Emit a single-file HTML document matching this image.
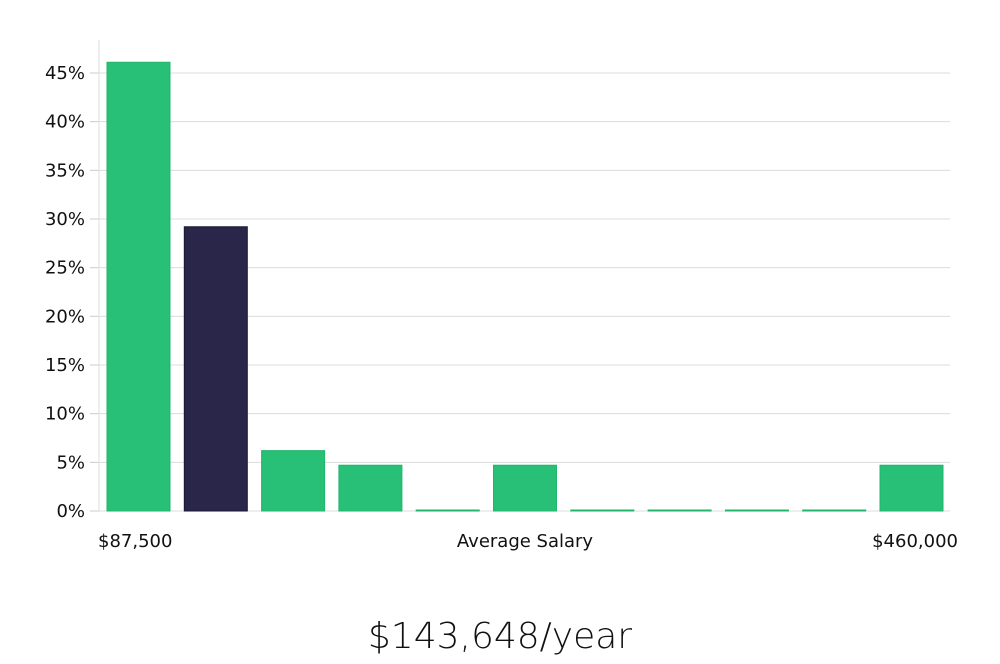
<!DOCTYPE html>
<html><head><meta charset="utf-8"><style>
body{margin:0;background:#fff;width:1000px;height:660px;overflow:hidden;font-family:"DejaVu Sans","Liberation Sans",sans-serif;}
svg text{font-family:"DejaVu Sans","Liberation Sans",sans-serif;}
</style></head><body>
<svg id="chart" width="1000" height="660" xmlns="http://www.w3.org/2000/svg">
<g id="grid"></g><g id="bars"></g><g id="labels"></g>
<text x="98" y="547" font-size="18" fill="#111">$87,500</text>
<text x="525" y="547" font-size="18" fill="#111" text-anchor="middle">Average Salary</text>
<text x="958" y="547" font-size="18" fill="#111" text-anchor="end">$460,000</text>
<text x="500" y="648" font-size="36" fill="#111" text-anchor="middle" font-family="Liberation Sans, sans-serif" style="font-weight:300">$143,648/year</text>
</svg>
<script>
const values=[46.0,29.1,6.1,4.6,0,4.6,0,0,0,0,4.6];
const highlightIndex=[1];
const ticks=[0,5,10,15,20,25,30,35,40,45];
const tickLabels=["0%","5%","10%","15%","20%","25%","30%","35%","40%","45%"];
const NS="http://www.w3.org/2000/svg";
const y0=511,pxPer=(511-73)/45;
const yS=v=>y0-v*pxPer;
const step=77.3,x0=107,bw=63;
const xS=i=>x0+i*step;
function mk(t,a,p){const e=document.createElementNS(NS,t);for(const k in a)e.setAttribute(k,a[k]);p.appendChild(e);return e;}
const grid=document.getElementById('grid'),bars=document.getElementById('bars'),labels=document.getElementById('labels');
ticks.forEach((t,i)=>{
  const y=yS(t);
  const l=mk('line',{x1:99,x2:950,y1:y,y2:y,stroke:'#dcdcdc','stroke-width':1},grid);
  
  
  mk('line',{x1:90,x2:99,y1:y,y2:y,stroke:'#ccc'},grid);
  const tx=mk('text',{x:85,y:y+6,'font-size':18,fill:'#111','text-anchor':'end'},labels);
  tx.textContent=tickLabels[i];
  
  
});
mk('line',{x1:99,x2:99,y1:40,y2:511,stroke:'#ddd'},grid);
values.forEach((v,i)=>{
  const hi=highlightIndex.includes(i);
  const top=yS(v);
  const r=mk('rect',{x:xS(i),y:top-1,width:bw,height:Math.max(y0-top+1,1),fill:hi?'#29264a':'#28c076',stroke:hi?'#1a1833':'#22b56c','stroke-width':1},bars);
  
  
});
</script>
</body></html>
